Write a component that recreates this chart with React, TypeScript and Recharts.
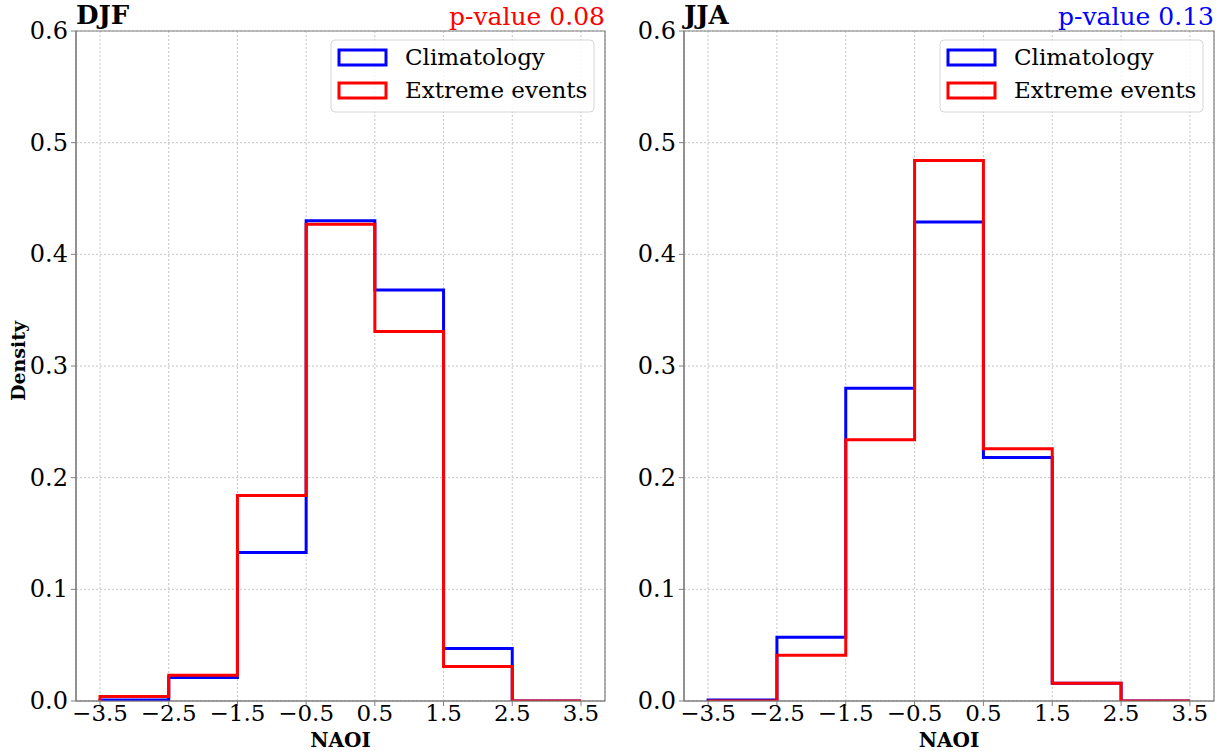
import { LineChart, Line, XAxis, YAxis, CartesianGrid, ReferenceArea } from 'recharts';

// bin edges of the NAOI histogram
const binEdges = [-3.5, -2.5, -1.5, -0.5, 0.5, 1.5, 2.5, 3.5];
const xTicks = [-3.5, -2.5, -1.5, -0.5, 0.5, 1.5, 2.5, 3.5];
const yTicks = [0, 0.1, 0.2, 0.3, 0.4, 0.5, 0.6];

// density per bin (7 bins)
const djfClimatology = [0.001, 0.021, 0.133, 0.43, 0.368, 0.047, 0.0];
const djfExtreme = [0.004, 0.023, 0.184, 0.427, 0.331, 0.031, 0.0];
const jjaClimatology = [0.001, 0.057, 0.28, 0.429, 0.218, 0.016, 0.0];
const jjaExtreme = [0.0, 0.041, 0.234, 0.484, 0.226, 0.016, 0.0];

const FONT = '"DejaVu Serif", serif';
const BLUE = '#0000ff';
const RED = '#ff0000';

// outline like matplotlib histtype="step": up at first edge, down at last edge
const toSteps = (heights: number[]) => {
  const pts = [{ x: binEdges[0], y: 0 }];
  heights.forEach((h, i) => pts.push({ x: binEdges[i], y: h }));
  pts.push({ x: binEdges[binEdges.length - 1], y: 0 });
  return pts;
};

const XTick = ({ x, y, payload }: any) => (
  <text x={x} y={y + 15} textAnchor="middle" fontFamily={FONT} fontSize={23} fill="#000">
    {String(payload.value).replace('-', '\u2212')}
  </text>
);

const YTick = ({ x, y, payload }: any) => (
  <text x={x} y={y + 8} textAnchor="end" fontFamily={FONT} fontSize={24} fill="#000">
    {Number(payload.value).toFixed(1)}
  </text>
);

interface PanelProps {
  left: number;
  width: number;
  marginRight: number;
  title: string;
  pValue: string;
  pColor: string;
  clim: number[];
  extreme: number[];
  showYLabel: boolean;
}

function Panel({ left, width, marginRight, title, pValue, pColor, clim, extreme, showYLabel }: PanelProps) {
  const plotLeft = left + 76;
  const plotRight = left + width - marginRight;
  return (
    <>
      <div style={{ position: 'absolute', left, top: 0 }}>
        <LineChart
          width={width}
          height={751}
          margin={{ top: 31, right: marginRight, left: 16, bottom: 20 }}
        >
          <CartesianGrid stroke="#b8b8b8" strokeDasharray="2 2" strokeWidth={0.8} />
          <XAxis
            type="number"
            dataKey="x"
            domain={[-3.85, 3.85]}
            ticks={xTicks}
            allowDataOverflow
            height={30}
            tick={<XTick />}
            tickSize={5}
            tickMargin={0}
            axisLine={{ stroke: '#808080', strokeWidth: 1.2 }}
            tickLine={{ stroke: '#808080' }}
            interval={0}
          />
          <YAxis
            type="number"
            dataKey="y"
            domain={[0, 0.6]}
            ticks={yTicks}
            allowDataOverflow
            width={60}
            tick={<YTick />}
            tickSize={5}
            tickMargin={3}
            axisLine={{ stroke: '#808080', strokeWidth: 1.2 }}
            tickLine={{ stroke: '#808080' }}
            interval={0}
          />
          <ReferenceArea x1={-3.85} x2={3.85} y1={0} y2={0.6} fill="none" stroke="#808080" strokeWidth={1.2} />
          <Line data={toSteps(clim)} dataKey="y" type="stepAfter" stroke={BLUE} strokeWidth={3} dot={false} isAnimationActive={false} />
          <Line data={toSteps(extreme)} dataKey="y" type="stepAfter" stroke={RED} strokeWidth={3} dot={false} isAnimationActive={false} />
        </LineChart>
      </div>
      <svg width={1216} height={751} style={{ position: 'absolute', left: 0, top: 0, pointerEvents: 'none' }}>
        <text x={plotLeft} y={24} fontFamily={FONT} fontWeight="bold" fontSize={26}>{title}</text>
        <text x={plotRight} y={25} fontFamily={FONT} fontSize={25} fill={pColor} textAnchor="end">{pValue}</text>
        <text x={(plotLeft + plotRight) / 2} y={747} fontFamily={FONT} fontWeight="bold" fontSize={20} textAnchor="middle">NAOI</text>
        {showYLabel && (
          <text x={0} y={0} transform="translate(25,361) rotate(-90)" fontFamily={FONT} fontWeight="bold" fontSize={19} textAnchor="middle">Density</text>
        )}
        <rect x={plotRight - 274} y={40} width={263} height={72} rx={4} fill="#fff" fillOpacity={0.8} stroke="#d6d6d6" />
        <rect x={plotRight - 266} y={50} width={47} height={15} fill="none" stroke={BLUE} strokeWidth={3} />
        <rect x={plotRight - 266} y={83} width={47} height={15} fill="none" stroke={RED} strokeWidth={3} />
        <text x={plotRight - 200} y={65} fontFamily={FONT} fontSize={23}>Climatology</text>
        <text x={plotRight - 200} y={98} fontFamily={FONT} fontSize={23}>Extreme events</text>
      </svg>
    </>
  );
}

export default function App() {
  return (
    <div style={{ position: 'absolute', left: 0, top: 0, width: 1216, height: 751, background: '#fff' }}>
      <Panel left={0} width={620} marginRight={15} title="DJF" pValue="p-value 0.08" pColor={RED}
        clim={djfClimatology} extreme={djfExtreme} showYLabel />
      <Panel left={608} width={608} marginRight={2} title="JJA" pValue="p-value 0.13" pColor={BLUE}
        clim={jjaClimatology} extreme={jjaExtreme} showYLabel={false} />
    </div>
  );
}
